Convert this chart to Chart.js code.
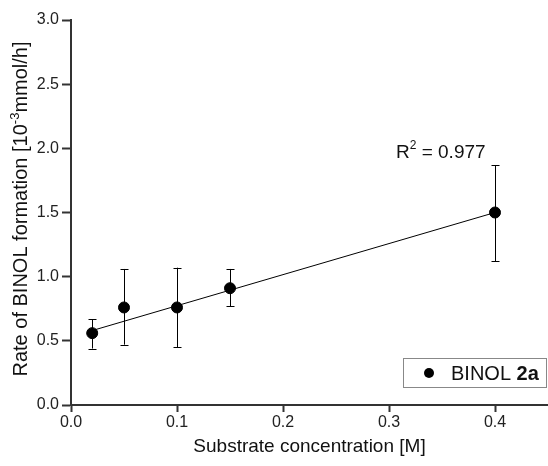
<!DOCTYPE html>
<html>
<head>
<meta charset="utf-8">
<script src="https://cdn.jsdelivr.net/npm/chart.js@4"></script>
<style>
  html, body { margin: 0; padding: 0; background: #fff; }
  #wrap { width: 548px; height: 466px; }
</style>
</head>
<body>
<div id="wrap"><canvas id="binolChart" width="548" height="466"></canvas></div>
<script>
// --- Data ---
const concentration = [0.02, 0.05, 0.1, 0.15, 0.4];
const rate = [0.56, 0.76, 0.76, 0.91, 1.50];
const rateHigh = [0.67, 1.06, 1.07, 1.06, 1.87];
const rateLow = [0.44, 0.47, 0.45, 0.77, 1.12];
const fitX = [0.02, 0.4];
const fitY = [0.58, 1.50];
const xTicks = [0, 0.1, 0.2, 0.3, 0.4];
const yTicks = [0, 0.5, 1.0, 1.5, 2.0, 2.5, 3.0];

const FONT = "'Liberation Sans', Arial, sans-serif";
const AXIS = "#333";

// stretch the x axis all the way to the right edge
const fullWidth = {
  id: "fullWidth",
  afterLayout(chart) {
    const x = chart.scales.x;
    chart.chartArea.right = chart.width;
    chart.chartArea.width = chart.chartArea.right - chart.chartArea.left;
    x.right = chart.width;
    x.width = x.right - x.left;
    x.configure();
  }
};

// error bars, legend box, annotations
const extras = {
  id: "extras",
  beforeDatasetsDraw(chart) {
    const { ctx, scales: { x, y } } = chart;
    ctx.save();
    ctx.strokeStyle = "#000";
    ctx.lineWidth = 1;
    concentration.forEach((c, i) => {
      const px = Math.round(x.getPixelForValue(c)) + 0.5;
      const top = y.getPixelForValue(rateHigh[i]);
      const bot = y.getPixelForValue(rateLow[i]);
      ctx.beginPath();
      ctx.moveTo(px, top); ctx.lineTo(px, bot);
      ctx.moveTo(px - 4, Math.round(top) + 0.5); ctx.lineTo(px + 4, Math.round(top) + 0.5);
      ctx.moveTo(px - 4, Math.round(bot) + 0.5); ctx.lineTo(px + 4, Math.round(bot) + 0.5);
      ctx.stroke();
    });
    ctx.restore();
  },
  afterDraw(chart) {
    const { ctx } = chart;
    ctx.save();
    ctx.fillStyle = "#111";
    ctx.textBaseline = "alphabetic";

    // R^2 label
    ctx.font = "19px " + FONT;
    ctx.fillText("R", 396, 158);
    const rw = ctx.measureText("R").width;
    ctx.font = "12px " + FONT;
    ctx.fillText("2", 396 + rw, 149);
    const sw = ctx.measureText("2").width;
    ctx.font = "19px " + FONT;
    ctx.fillText(" = 0.977", 396 + rw + sw, 158);

    // legend box
    ctx.fillStyle = "#fff";
    ctx.fillRect(403.5, 358.5, 143, 29);
    ctx.strokeStyle = "#888";
    ctx.lineWidth = 1;
    ctx.strokeRect(403.5, 358.5, 143, 29);
    ctx.fillStyle = "#000";
    ctx.beginPath();
    ctx.arc(429, 373, 5, 0, Math.PI * 2);
    ctx.fill();
    ctx.fillStyle = "#111";
    ctx.font = "20px " + FONT;
    ctx.fillText("BINOL ", 451, 380);
    const bw = ctx.measureText("BINOL ").width;
    ctx.font = "bold 20px " + FONT;
    ctx.fillText("2a", 451 + bw, 380);

    // y-axis title with superscript
    ctx.translate(27, 209);
    ctx.rotate(-Math.PI / 2);
    const parts = [["Rate of BINOL formation [10", 20, 0], ["-3", 13, -8], ["mmol/h]", 20, 0]];
    let total = 0;
    parts.forEach(p => { ctx.font = p[1] + "px " + FONT; total += ctx.measureText(p[0]).width; });
    let cx = -total / 2;
    parts.forEach(p => {
      ctx.font = p[1] + "px " + FONT;
      ctx.fillText(p[0], cx, p[2]);
      cx += ctx.measureText(p[0]).width;
    });
    ctx.restore();
  }
};

const ctx = document.getElementById("binolChart").getContext("2d");
new Chart(ctx, {
  type: "scatter",
  data: {
    datasets: [
      {
        label: "BINOL 2a",
        data: concentration.map((c, i) => ({ x: c, y: rate[i] })),
        backgroundColor: "#000",
        borderColor: "#000",
        pointRadius: 5.5,
        pointHoverRadius: 5.5
      },
      {
        label: "fit",
        type: "line",
        data: fitX.map((c, i) => ({ x: c, y: fitY[i] })),
        borderColor: "#000",
        borderWidth: 1,
        pointRadius: 0,
        fill: false
      }
    ]
  },
  options: {
    responsive: false,
    animation: false,
    layout: { padding: { top: 20, right: 0, left: 0, bottom: 0 } },
    plugins: {
      legend: { display: false },
      tooltip: { enabled: false }
    },
    scales: {
      x: {
        type: "linear",
        min: 0,
        max: 0.45,
        afterBuildTicks: s => { s.ticks = xTicks.map(v => ({ value: v })); },
        afterFit: s => { s.height = 61; },
        ticks: {
          color: "#222",
          font: { family: FONT, size: 16 },
          padding: 1,
          maxRotation: 0,
          callback: v => v.toFixed(1)
        },
        grid: { drawOnChartArea: false, drawTicks: true, tickLength: 7, tickWidth: 2, tickColor: AXIS },
        border: { color: AXIS, width: 2 },
        title: {
          display: true,
          text: "Substrate concentration [M]",
          color: "#111",
          font: { family: FONT, size: 19 },
          padding: { top: 4, bottom: 8 }
        }
      },
      y: {
        min: 0,
        max: 3,
        afterBuildTicks: s => { s.ticks = yTicks.map(v => ({ value: v })); },
        afterFit: s => { s.width = 71; },
        ticks: {
          color: "#222",
          font: { family: FONT, size: 16 },
          padding: 3,
          callback: v => v.toFixed(1)
        },
        grid: { drawOnChartArea: false, drawTicks: true, tickLength: 9, tickWidth: 2, tickColor: AXIS },
        border: { color: AXIS, width: 2 }
      }
    }
  },
  plugins: [fullWidth, extras]
});
</script>
</body>
</html>
